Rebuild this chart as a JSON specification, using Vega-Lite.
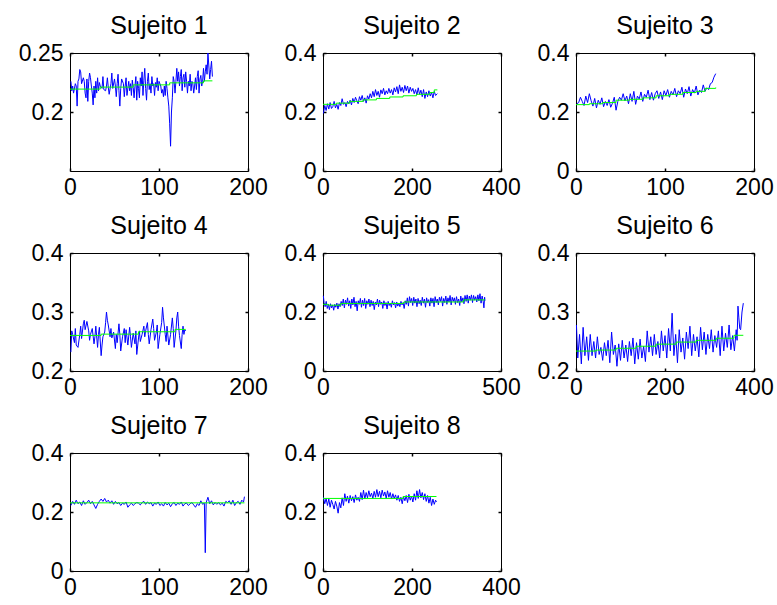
{
"$schema": "https://vega.github.io/schema/vega-lite/v6.json",
"padding": {"left": 17, "top": 13, "right": 0, "bottom": 0},
"background": "white",
"config": {
  "font": "Liberation Sans",
  "view": {"stroke": "#000000", "strokeWidth": 1},
  "axis": {"grid": false, "domain": false, "ticks": true, "tickSize": -3, "tickColor": "#000000", "tickWidth": 1.5, "labelFont": "Liberation Sans", "labelFontSize": 23, "labelColor": "#000000", "labelPadding": 10, "labelFlush": false, "labelOverlap": false, "format": "~f"},
  "axisX": {"labelPadding": 8},
  "title": {"font": "Liberation Sans", "fontSize": 25, "fontWeight": "normal", "color": "#000000", "anchor": "middle", "frame": "group", "baseline": "alphabetic", "offset": 3},
  "line": {"strokeWidth": 1, "clip": true}
},
"datasets": {
"b1": [{"x":1,"y":0.226},{"x":2,"y":0.218},{"x":3,"y":0.222},{"x":4,"y":0.216},{"x":6,"y":0.224},{"x":7,"y":0.222},{"x":8,"y":0.205},{"x":9,"y":0.226},{"x":10,"y":0.228},{"x":11,"y":0.236},{"x":12,"y":0.234},{"x":13,"y":0.224},{"x":15,"y":0.229},{"x":16,"y":0.226},{"x":17,"y":0.216},{"x":18,"y":0.212},{"x":19,"y":0.228},{"x":20,"y":0.209},{"x":21,"y":0.226},{"x":22,"y":0.233},{"x":23,"y":0.229},{"x":24,"y":0.222},{"x":25,"y":0.216},{"x":26,"y":0.206},{"x":27,"y":0.222},{"x":28,"y":0.212},{"x":29,"y":0.226},{"x":30,"y":0.216},{"x":31,"y":0.229},{"x":32,"y":0.218},{"x":33,"y":0.225},{"x":34,"y":0.222},{"x":36,"y":0.22},{"x":37,"y":0.23},{"x":38,"y":0.219},{"x":40,"y":0.218},{"x":41,"y":0.222},{"x":42,"y":0.229},{"x":43,"y":0.221},{"x":44,"y":0.215},{"x":46,"y":0.224},{"x":47,"y":0.233},{"x":48,"y":0.22},{"x":50,"y":0.228},{"x":51,"y":0.222},{"x":52,"y":0.213},{"x":53,"y":0.224},{"x":54,"y":0.232},{"x":55,"y":0.218},{"x":56,"y":0.205},{"x":57,"y":0.22},{"x":58,"y":0.228},{"x":60,"y":0.224},{"x":61,"y":0.213},{"x":62,"y":0.222},{"x":63,"y":0.229},{"x":64,"y":0.214},{"x":66,"y":0.226},{"x":67,"y":0.218},{"x":68,"y":0.224},{"x":69,"y":0.214},{"x":70,"y":0.227},{"x":71,"y":0.221},{"x":72,"y":0.212},{"x":73,"y":0.222},{"x":74,"y":0.23},{"x":75,"y":0.21},{"x":76,"y":0.226},{"x":77,"y":0.22},{"x":78,"y":0.212},{"x":79,"y":0.229},{"x":80,"y":0.222},{"x":81,"y":0.234},{"x":82,"y":0.214},{"x":83,"y":0.227},{"x":84,"y":0.237},{"x":85,"y":0.22},{"x":86,"y":0.21},{"x":87,"y":0.226},{"x":88,"y":0.233},{"x":89,"y":0.219},{"x":90,"y":0.224},{"x":91,"y":0.216},{"x":92,"y":0.23},{"x":93,"y":0.222},{"x":94,"y":0.224},{"x":95,"y":0.214},{"x":96,"y":0.225},{"x":97,"y":0.221},{"x":98,"y":0.229},{"x":99,"y":0.218},{"x":100,"y":0.226},{"x":102,"y":0.222},{"x":103,"y":0.216},{"x":104,"y":0.219},{"x":105,"y":0.213},{"x":106,"y":0.222},{"x":107,"y":0.214},{"x":108,"y":0.226},{"x":109,"y":0.22},{"x":110,"y":0.212},{"x":111,"y":0.205},{"x":112,"y":0.19},{"x":113,"y":0.171},{"x":114,"y":0.2},{"x":115,"y":0.212},{"x":116,"y":0.23},{"x":117,"y":0.226},{"x":118,"y":0.216},{"x":119,"y":0.226},{"x":120,"y":0.237},{"x":121,"y":0.226},{"x":122,"y":0.234},{"x":123,"y":0.222},{"x":124,"y":0.23},{"x":125,"y":0.236},{"x":126,"y":0.218},{"x":127,"y":0.229},{"x":128,"y":0.232},{"x":129,"y":0.221},{"x":130,"y":0.234},{"x":131,"y":0.226},{"x":132,"y":0.216},{"x":133,"y":0.226},{"x":134,"y":0.222},{"x":135,"y":0.232},{"x":136,"y":0.218},{"x":137,"y":0.226},{"x":138,"y":0.224},{"x":139,"y":0.216},{"x":140,"y":0.222},{"x":141,"y":0.229},{"x":142,"y":0.219},{"x":143,"y":0.23},{"x":144,"y":0.235},{"x":145,"y":0.216},{"x":146,"y":0.228},{"x":147,"y":0.231},{"x":148,"y":0.222},{"x":149,"y":0.226},{"x":150,"y":0.237},{"x":151,"y":0.226},{"x":152,"y":0.234},{"x":153,"y":0.24},{"x":154,"y":0.232},{"x":155,"y":0.25},{"x":156,"y":0.239},{"x":157,"y":0.228},{"x":158,"y":0.236},{"x":159,"y":0.243},{"x":160,"y":0.23}],
"g1": [{"x":0,"y":0.2194},{"x":34,"y":0.2211},{"x":71,"y":0.223},{"x":112,"y":0.2247},{"x":150,"y":0.2264},{"x":160,"y":0.2264}],
"b2": [{"x":1,"y":0.195},{"x":4,"y":0.222},{"x":7,"y":0.205},{"x":10,"y":0.228},{"x":13,"y":0.21},{"x":16,"y":0.232},{"x":19,"y":0.212},{"x":22,"y":0.218},{"x":25,"y":0.236},{"x":28,"y":0.214},{"x":31,"y":0.226},{"x":34,"y":0.209},{"x":37,"y":0.232},{"x":40,"y":0.222},{"x":43,"y":0.245},{"x":46,"y":0.226},{"x":49,"y":0.232},{"x":52,"y":0.218},{"x":55,"y":0.236},{"x":58,"y":0.228},{"x":61,"y":0.24},{"x":64,"y":0.224},{"x":67,"y":0.246},{"x":70,"y":0.232},{"x":73,"y":0.25},{"x":76,"y":0.238},{"x":79,"y":0.228},{"x":82,"y":0.252},{"x":85,"y":0.24},{"x":88,"y":0.256},{"x":91,"y":0.236},{"x":94,"y":0.248},{"x":97,"y":0.23},{"x":100,"y":0.255},{"x":103,"y":0.244},{"x":106,"y":0.262},{"x":109,"y":0.248},{"x":112,"y":0.27},{"x":115,"y":0.252},{"x":118,"y":0.276},{"x":121,"y":0.256},{"x":124,"y":0.27},{"x":127,"y":0.25},{"x":130,"y":0.275},{"x":133,"y":0.262},{"x":136,"y":0.28},{"x":139,"y":0.258},{"x":142,"y":0.272},{"x":145,"y":0.262},{"x":148,"y":0.28},{"x":151,"y":0.264},{"x":154,"y":0.276},{"x":157,"y":0.258},{"x":160,"y":0.282},{"x":163,"y":0.268},{"x":166,"y":0.286},{"x":169,"y":0.262},{"x":172,"y":0.292},{"x":175,"y":0.27},{"x":178,"y":0.284},{"x":181,"y":0.266},{"x":184,"y":0.29},{"x":187,"y":0.272},{"x":190,"y":0.288},{"x":193,"y":0.264},{"x":196,"y":0.284},{"x":199,"y":0.27},{"x":202,"y":0.28},{"x":205,"y":0.262},{"x":208,"y":0.276},{"x":211,"y":0.258},{"x":214,"y":0.282},{"x":217,"y":0.26},{"x":220,"y":0.274},{"x":223,"y":0.252},{"x":226,"y":0.276},{"x":229,"y":0.246},{"x":232,"y":0.268},{"x":235,"y":0.252},{"x":238,"y":0.272},{"x":241,"y":0.254},{"x":244,"y":0.266},{"x":247,"y":0.248},{"x":250,"y":0.27},{"x":253,"y":0.256},{"x":257,"y":0.262}],
"g2": [{"x":0,"y":0.226},{"x":30,"y":0.23},{"x":60,"y":0.236},{"x":90,"y":0.241},{"x":120,"y":0.246},{"x":150,"y":0.251},{"x":180,"y":0.255},{"x":210,"y":0.26},{"x":240,"y":0.266},{"x":250,"y":0.275},{"x":257,"y":0.275}],
"b3": [{"x":1,"y":0.228},{"x":3,"y":0.232},{"x":5,"y":0.25},{"x":7,"y":0.236},{"x":9,"y":0.222},{"x":11,"y":0.254},{"x":13,"y":0.232},{"x":15,"y":0.262},{"x":17,"y":0.238},{"x":19,"y":0.22},{"x":21,"y":0.246},{"x":23,"y":0.214},{"x":25,"y":0.24},{"x":27,"y":0.226},{"x":29,"y":0.248},{"x":31,"y":0.218},{"x":33,"y":0.236},{"x":35,"y":0.222},{"x":37,"y":0.242},{"x":39,"y":0.216},{"x":41,"y":0.23},{"x":43,"y":0.25},{"x":45,"y":0.206},{"x":47,"y":0.236},{"x":49,"y":0.25},{"x":51,"y":0.24},{"x":53,"y":0.262},{"x":55,"y":0.238},{"x":57,"y":0.254},{"x":59,"y":0.228},{"x":61,"y":0.262},{"x":63,"y":0.236},{"x":65,"y":0.27},{"x":67,"y":0.226},{"x":69,"y":0.254},{"x":71,"y":0.244},{"x":73,"y":0.268},{"x":75,"y":0.236},{"x":77,"y":0.26},{"x":79,"y":0.25},{"x":81,"y":0.274},{"x":83,"y":0.242},{"x":85,"y":0.266},{"x":87,"y":0.24},{"x":89,"y":0.262},{"x":91,"y":0.272},{"x":93,"y":0.246},{"x":95,"y":0.268},{"x":97,"y":0.242},{"x":99,"y":0.272},{"x":101,"y":0.256},{"x":103,"y":0.276},{"x":105,"y":0.25},{"x":107,"y":0.27},{"x":109,"y":0.258},{"x":111,"y":0.28},{"x":113,"y":0.252},{"x":115,"y":0.272},{"x":117,"y":0.262},{"x":119,"y":0.284},{"x":121,"y":0.25},{"x":123,"y":0.278},{"x":125,"y":0.262},{"x":127,"y":0.286},{"x":129,"y":0.254},{"x":131,"y":0.276},{"x":133,"y":0.264},{"x":135,"y":0.288},{"x":137,"y":0.258},{"x":139,"y":0.274},{"x":141,"y":0.266},{"x":143,"y":0.292},{"x":145,"y":0.27},{"x":147,"y":0.282},{"x":149,"y":0.276},{"x":151,"y":0.296},{"x":153,"y":0.3},{"x":155,"y":0.318},{"x":157,"y":0.33}],
"g3": [{"x":0,"y":0.225},{"x":15,"y":0.228},{"x":30,"y":0.232},{"x":45,"y":0.24},{"x":60,"y":0.243},{"x":75,"y":0.248},{"x":90,"y":0.255},{"x":105,"y":0.26},{"x":120,"y":0.266},{"x":135,"y":0.27},{"x":145,"y":0.28},{"x":157,"y":0.283}],
"b4": [{"x":1,"y":0.232},{"x":2,"y":0.268},{"x":3,"y":0.262},{"x":5,"y":0.248},{"x":6,"y":0.272},{"x":7,"y":0.244},{"x":9,"y":0.24},{"x":11,"y":0.262},{"x":12,"y":0.276},{"x":13,"y":0.255},{"x":15,"y":0.28},{"x":16,"y":0.286},{"x":17,"y":0.27},{"x":19,"y":0.284},{"x":21,"y":0.268},{"x":22,"y":0.252},{"x":23,"y":0.262},{"x":25,"y":0.272},{"x":27,"y":0.246},{"x":28,"y":0.258},{"x":29,"y":0.276},{"x":31,"y":0.24},{"x":32,"y":0.262},{"x":33,"y":0.274},{"x":35,"y":0.226},{"x":36,"y":0.244},{"x":37,"y":0.258},{"x":39,"y":0.266},{"x":40,"y":0.282},{"x":41,"y":0.3},{"x":42,"y":0.286},{"x":43,"y":0.278},{"x":45,"y":0.258},{"x":46,"y":0.272},{"x":47,"y":0.256},{"x":49,"y":0.266},{"x":51,"y":0.238},{"x":52,"y":0.262},{"x":53,"y":0.248},{"x":55,"y":0.28},{"x":56,"y":0.262},{"x":57,"y":0.234},{"x":59,"y":0.258},{"x":61,"y":0.272},{"x":62,"y":0.248},{"x":63,"y":0.27},{"x":65,"y":0.244},{"x":67,"y":0.274},{"x":68,"y":0.258},{"x":69,"y":0.24},{"x":71,"y":0.264},{"x":73,"y":0.246},{"x":74,"y":0.268},{"x":75,"y":0.228},{"x":77,"y":0.256},{"x":78,"y":0.268},{"x":79,"y":0.25},{"x":81,"y":0.262},{"x":83,"y":0.276},{"x":84,"y":0.258},{"x":85,"y":0.268},{"x":87,"y":0.282},{"x":88,"y":0.262},{"x":89,"y":0.246},{"x":91,"y":0.27},{"x":93,"y":0.288},{"x":94,"y":0.272},{"x":95,"y":0.252},{"x":97,"y":0.266},{"x":98,"y":0.278},{"x":99,"y":0.238},{"x":101,"y":0.262},{"x":103,"y":0.282},{"x":104,"y":0.308},{"x":105,"y":0.29},{"x":107,"y":0.262},{"x":108,"y":0.25},{"x":109,"y":0.276},{"x":111,"y":0.244},{"x":113,"y":0.262},{"x":115,"y":0.29},{"x":116,"y":0.272},{"x":117,"y":0.24},{"x":119,"y":0.268},{"x":120,"y":0.29},{"x":121,"y":0.3},{"x":122,"y":0.276},{"x":123,"y":0.26},{"x":125,"y":0.238},{"x":126,"y":0.262},{"x":127,"y":0.276},{"x":128,"y":0.262},{"x":129,"y":0.27},{"x":130,"y":0.268}],
"g4": [{"x":0,"y":0.2603},{"x":35,"y":0.2625},{"x":77,"y":0.2665},{"x":118,"y":0.2705},{"x":130,"y":0.2705}],
"b5": [{"x":1,"y":0.255},{"x":3,"y":0.232},{"x":6,"y":0.218},{"x":9,"y":0.236},{"x":12,"y":0.212},{"x":15,"y":0.226},{"x":18,"y":0.208},{"x":21,"y":0.228},{"x":24,"y":0.214},{"x":27,"y":0.224},{"x":30,"y":0.206},{"x":33,"y":0.226},{"x":36,"y":0.216},{"x":39,"y":0.23},{"x":42,"y":0.21},{"x":45,"y":0.228},{"x":48,"y":0.218},{"x":51,"y":0.236},{"x":54,"y":0.222},{"x":57,"y":0.244},{"x":60,"y":0.214},{"x":63,"y":0.24},{"x":66,"y":0.226},{"x":69,"y":0.248},{"x":72,"y":0.22},{"x":75,"y":0.238},{"x":78,"y":0.212},{"x":81,"y":0.244},{"x":84,"y":0.224},{"x":87,"y":0.25},{"x":90,"y":0.218},{"x":93,"y":0.236},{"x":96,"y":0.204},{"x":99,"y":0.238},{"x":102,"y":0.226},{"x":105,"y":0.246},{"x":108,"y":0.216},{"x":111,"y":0.24},{"x":114,"y":0.222},{"x":117,"y":0.246},{"x":120,"y":0.212},{"x":123,"y":0.238},{"x":126,"y":0.226},{"x":129,"y":0.244},{"x":132,"y":0.218},{"x":135,"y":0.24},{"x":138,"y":0.222},{"x":141,"y":0.236},{"x":144,"y":0.208},{"x":147,"y":0.234},{"x":150,"y":0.224},{"x":153,"y":0.244},{"x":156,"y":0.218},{"x":159,"y":0.24},{"x":162,"y":0.226},{"x":165,"y":0.234},{"x":168,"y":0.212},{"x":171,"y":0.238},{"x":174,"y":0.222},{"x":177,"y":0.232},{"x":180,"y":0.21},{"x":183,"y":0.236},{"x":186,"y":0.222},{"x":189,"y":0.23},{"x":192,"y":0.216},{"x":195,"y":0.238},{"x":198,"y":0.224},{"x":201,"y":0.232},{"x":204,"y":0.214},{"x":207,"y":0.234},{"x":210,"y":0.22},{"x":213,"y":0.23},{"x":216,"y":0.218},{"x":219,"y":0.236},{"x":222,"y":0.224},{"x":225,"y":0.232},{"x":228,"y":0.212},{"x":231,"y":0.238},{"x":234,"y":0.226},{"x":237,"y":0.248},{"x":240,"y":0.22},{"x":243,"y":0.252},{"x":246,"y":0.232},{"x":249,"y":0.246},{"x":252,"y":0.222},{"x":255,"y":0.25},{"x":258,"y":0.23},{"x":261,"y":0.244},{"x":264,"y":0.218},{"x":267,"y":0.246},{"x":270,"y":0.228},{"x":273,"y":0.24},{"x":276,"y":0.222},{"x":279,"y":0.25},{"x":282,"y":0.23},{"x":285,"y":0.244},{"x":288,"y":0.216},{"x":291,"y":0.248},{"x":294,"y":0.232},{"x":297,"y":0.242},{"x":300,"y":0.22},{"x":303,"y":0.248},{"x":306,"y":0.23},{"x":309,"y":0.246},{"x":312,"y":0.218},{"x":315,"y":0.252},{"x":318,"y":0.232},{"x":321,"y":0.244},{"x":324,"y":0.224},{"x":327,"y":0.25},{"x":330,"y":0.236},{"x":333,"y":0.252},{"x":336,"y":0.22},{"x":339,"y":0.246},{"x":342,"y":0.232},{"x":345,"y":0.254},{"x":348,"y":0.226},{"x":351,"y":0.248},{"x":354,"y":0.234},{"x":357,"y":0.256},{"x":360,"y":0.224},{"x":363,"y":0.25},{"x":366,"y":0.236},{"x":369,"y":0.248},{"x":372,"y":0.226},{"x":375,"y":0.252},{"x":378,"y":0.232},{"x":381,"y":0.244},{"x":384,"y":0.222},{"x":387,"y":0.254},{"x":390,"y":0.234},{"x":393,"y":0.248},{"x":396,"y":0.228},{"x":399,"y":0.256},{"x":402,"y":0.236},{"x":405,"y":0.258},{"x":408,"y":0.23},{"x":411,"y":0.254},{"x":414,"y":0.24},{"x":417,"y":0.258},{"x":420,"y":0.232},{"x":423,"y":0.256},{"x":426,"y":0.24},{"x":429,"y":0.252},{"x":432,"y":0.234},{"x":435,"y":0.258},{"x":438,"y":0.238},{"x":441,"y":0.262},{"x":444,"y":0.23},{"x":447,"y":0.254},{"x":450,"y":0.236},{"x":452,"y":0.214},{"x":454,"y":0.25},{"x":455,"y":0.238}],
"g5": [{"x":0,"y":0.226},{"x":15,"y":0.223},{"x":50,"y":0.229},{"x":227,"y":0.234},{"x":395,"y":0.241},{"x":455,"y":0.241}],
"b6": [{"x":1,"y":0.278},{"x":4,"y":0.222},{"x":8,"y":0.262},{"x":12,"y":0.212},{"x":16,"y":0.274},{"x":20,"y":0.226},{"x":24,"y":0.258},{"x":28,"y":0.218},{"x":32,"y":0.262},{"x":36,"y":0.226},{"x":40,"y":0.25},{"x":44,"y":0.222},{"x":48,"y":0.258},{"x":52,"y":0.228},{"x":56,"y":0.24},{"x":60,"y":0.218},{"x":64,"y":0.248},{"x":68,"y":0.226},{"x":72,"y":0.252},{"x":76,"y":0.214},{"x":80,"y":0.266},{"x":84,"y":0.228},{"x":88,"y":0.244},{"x":92,"y":0.208},{"x":96,"y":0.246},{"x":100,"y":0.218},{"x":104,"y":0.252},{"x":108,"y":0.222},{"x":112,"y":0.244},{"x":116,"y":0.216},{"x":120,"y":0.25},{"x":124,"y":0.226},{"x":128,"y":0.256},{"x":132,"y":0.212},{"x":136,"y":0.248},{"x":140,"y":0.22},{"x":144,"y":0.254},{"x":148,"y":0.222},{"x":152,"y":0.242},{"x":156,"y":0.216},{"x":160,"y":0.268},{"x":164,"y":0.232},{"x":168,"y":0.258},{"x":172,"y":0.226},{"x":176,"y":0.262},{"x":180,"y":0.228},{"x":184,"y":0.25},{"x":188,"y":0.222},{"x":192,"y":0.268},{"x":196,"y":0.234},{"x":200,"y":0.26},{"x":204,"y":0.222},{"x":208,"y":0.272},{"x":212,"y":0.234},{"x":216,"y":0.298},{"x":220,"y":0.226},{"x":224,"y":0.262},{"x":228,"y":0.214},{"x":232,"y":0.27},{"x":236,"y":0.232},{"x":240,"y":0.256},{"x":244,"y":0.22},{"x":248,"y":0.266},{"x":252,"y":0.238},{"x":256,"y":0.276},{"x":260,"y":0.226},{"x":264,"y":0.262},{"x":268,"y":0.234},{"x":272,"y":0.258},{"x":276,"y":0.224},{"x":280,"y":0.274},{"x":284,"y":0.236},{"x":288,"y":0.266},{"x":292,"y":0.228},{"x":296,"y":0.262},{"x":300,"y":0.238},{"x":304,"y":0.27},{"x":308,"y":0.232},{"x":312,"y":0.26},{"x":316,"y":0.24},{"x":320,"y":0.268},{"x":324,"y":0.226},{"x":328,"y":0.276},{"x":332,"y":0.234},{"x":336,"y":0.264},{"x":340,"y":0.24},{"x":344,"y":0.278},{"x":348,"y":0.236},{"x":352,"y":0.26},{"x":356,"y":0.234},{"x":360,"y":0.27},{"x":362,"y":0.252},{"x":364,"y":0.31},{"x":366,"y":0.29},{"x":368,"y":0.272},{"x":370,"y":0.27},{"x":373,"y":0.3},{"x":376,"y":0.315}],
"g6": [{"x":0,"y":0.2338},{"x":45,"y":0.2355},{"x":90,"y":0.2385},{"x":135,"y":0.242},{"x":180,"y":0.2455},{"x":225,"y":0.249},{"x":270,"y":0.252},{"x":315,"y":0.2555},{"x":355,"y":0.2605},{"x":376,"y":0.2605}],
"b7": [{"x":1,"y":0.222},{"x":3,"y":0.236},{"x":5,"y":0.226},{"x":7,"y":0.24},{"x":9,"y":0.228},{"x":11,"y":0.234},{"x":13,"y":0.222},{"x":15,"y":0.238},{"x":17,"y":0.226},{"x":19,"y":0.232},{"x":21,"y":0.24},{"x":23,"y":0.228},{"x":25,"y":0.236},{"x":27,"y":0.224},{"x":29,"y":0.212},{"x":31,"y":0.226},{"x":33,"y":0.236},{"x":35,"y":0.244},{"x":37,"y":0.236},{"x":39,"y":0.246},{"x":41,"y":0.234},{"x":43,"y":0.24},{"x":45,"y":0.23},{"x":47,"y":0.238},{"x":49,"y":0.226},{"x":51,"y":0.236},{"x":53,"y":0.228},{"x":55,"y":0.232},{"x":57,"y":0.222},{"x":59,"y":0.23},{"x":61,"y":0.226},{"x":63,"y":0.234},{"x":65,"y":0.216},{"x":67,"y":0.224},{"x":69,"y":0.23},{"x":71,"y":0.222},{"x":73,"y":0.228},{"x":75,"y":0.232},{"x":77,"y":0.23},{"x":79,"y":0.224},{"x":81,"y":0.232},{"x":83,"y":0.236},{"x":85,"y":0.226},{"x":87,"y":0.234},{"x":89,"y":0.228},{"x":91,"y":0.232},{"x":93,"y":0.22},{"x":95,"y":0.23},{"x":97,"y":0.226},{"x":99,"y":0.234},{"x":101,"y":0.222},{"x":103,"y":0.228},{"x":105,"y":0.22},{"x":107,"y":0.232},{"x":109,"y":0.224},{"x":111,"y":0.23},{"x":113,"y":0.218},{"x":115,"y":0.228},{"x":117,"y":0.232},{"x":119,"y":0.222},{"x":121,"y":0.23},{"x":123,"y":0.226},{"x":125,"y":0.234},{"x":127,"y":0.22},{"x":129,"y":0.228},{"x":131,"y":0.23},{"x":133,"y":0.222},{"x":135,"y":0.228},{"x":137,"y":0.232},{"x":139,"y":0.224},{"x":141,"y":0.216},{"x":143,"y":0.228},{"x":145,"y":0.222},{"x":147,"y":0.238},{"x":149,"y":0.226},{"x":151,"y":0.23},{"x":152,"y":0.062},{"x":153,"y":0.232},{"x":155,"y":0.25},{"x":157,"y":0.228},{"x":159,"y":0.238},{"x":161,"y":0.224},{"x":163,"y":0.232},{"x":165,"y":0.226},{"x":167,"y":0.232},{"x":169,"y":0.224},{"x":171,"y":0.23},{"x":173,"y":0.22},{"x":175,"y":0.236},{"x":177,"y":0.232},{"x":179,"y":0.238},{"x":181,"y":0.226},{"x":183,"y":0.24},{"x":185,"y":0.222},{"x":187,"y":0.232},{"x":189,"y":0.236},{"x":191,"y":0.226},{"x":193,"y":0.24},{"x":195,"y":0.234},{"x":196,"y":0.252}],
"g7": [{"x":0,"y":0.231},{"x":196,"y":0.231}],
"b8": [{"x":1,"y":0.25},{"x":4,"y":0.228},{"x":7,"y":0.246},{"x":10,"y":0.222},{"x":13,"y":0.244},{"x":16,"y":0.216},{"x":19,"y":0.24},{"x":22,"y":0.226},{"x":25,"y":0.21},{"x":28,"y":0.236},{"x":31,"y":0.22},{"x":34,"y":0.196},{"x":37,"y":0.232},{"x":40,"y":0.214},{"x":43,"y":0.248},{"x":46,"y":0.222},{"x":49,"y":0.262},{"x":52,"y":0.236},{"x":55,"y":0.254},{"x":58,"y":0.23},{"x":61,"y":0.256},{"x":64,"y":0.238},{"x":67,"y":0.252},{"x":70,"y":0.232},{"x":73,"y":0.258},{"x":76,"y":0.24},{"x":79,"y":0.25},{"x":82,"y":0.236},{"x":85,"y":0.266},{"x":88,"y":0.242},{"x":91,"y":0.274},{"x":94,"y":0.244},{"x":97,"y":0.266},{"x":100,"y":0.248},{"x":103,"y":0.272},{"x":106,"y":0.252},{"x":109,"y":0.264},{"x":112,"y":0.246},{"x":115,"y":0.27},{"x":118,"y":0.25},{"x":121,"y":0.276},{"x":124,"y":0.252},{"x":127,"y":0.27},{"x":130,"y":0.248},{"x":133,"y":0.274},{"x":136,"y":0.254},{"x":139,"y":0.268},{"x":142,"y":0.246},{"x":145,"y":0.272},{"x":148,"y":0.25},{"x":151,"y":0.266},{"x":154,"y":0.244},{"x":157,"y":0.262},{"x":160,"y":0.246},{"x":163,"y":0.258},{"x":166,"y":0.24},{"x":169,"y":0.256},{"x":172,"y":0.236},{"x":175,"y":0.25},{"x":178,"y":0.228},{"x":181,"y":0.252},{"x":184,"y":0.238},{"x":187,"y":0.256},{"x":190,"y":0.232},{"x":193,"y":0.26},{"x":196,"y":0.24},{"x":199,"y":0.254},{"x":202,"y":0.234},{"x":205,"y":0.262},{"x":208,"y":0.24},{"x":211,"y":0.272},{"x":214,"y":0.246},{"x":217,"y":0.276},{"x":220,"y":0.248},{"x":223,"y":0.266},{"x":226,"y":0.242},{"x":229,"y":0.262},{"x":232,"y":0.236},{"x":235,"y":0.256},{"x":238,"y":0.23},{"x":241,"y":0.25},{"x":244,"y":0.222},{"x":247,"y":0.244},{"x":250,"y":0.226},{"x":253,"y":0.24},{"x":255,"y":0.234}],
"g8": [{"x":0,"y":0.246},{"x":180,"y":0.2525},{"x":255,"y":0.2525}]
},
"columns": 3,
"bounds": "flush",
"spacing": {"row": 82, "column": 75},
"concat": [
{"title": "Sujeito 1", "width": 178, "height": 118,
 "layer": [
  {"data": {"name": "b1"}, "mark": {"type": "line", "color": "#0000ff"},
   "encoding": {"x": {"field": "x", "type": "quantitative", "scale": {"domain": [0, 200], "nice": false, "zero": false}, "axis": {"values": [0, 100, 200], "title": null}},
                "y": {"field": "y", "type": "quantitative", "scale": {"domain": [0.15, 0.25], "nice": false, "zero": false}, "axis": {"values": [0.2, 0.25], "title": null}}}},
  {"data": {"name": "g1"}, "mark": {"type": "line", "color": "#00ff00", "interpolate": "step-after"},
   "encoding": {"x": {"field": "x", "type": "quantitative", "scale": {"domain": [0, 200], "nice": false, "zero": false}, "axis": {"orient": "top", "values": [0, 100, 200], "labels": false, "title": null}},
                "y": {"field": "y", "type": "quantitative", "scale": {"domain": [0.15, 0.25], "nice": false, "zero": false}, "axis": {"orient": "right", "values": [0.2, 0.25], "labels": false, "title": null}}}}
 ],
 "resolve": {"axis": {"x": "independent", "y": "independent"}}},
{"title": "Sujeito 2", "width": 178, "height": 118,
 "layer": [
  {"data": {"name": "b2"}, "mark": {"type": "line", "color": "#0000ff"},
   "encoding": {"x": {"field": "x", "type": "quantitative", "scale": {"domain": [0, 400], "nice": false, "zero": false}, "axis": {"values": [0, 200, 400], "title": null}},
                "y": {"field": "y", "type": "quantitative", "scale": {"domain": [0, 0.4], "nice": false, "zero": false}, "axis": {"values": [0, 0.2, 0.4], "title": null}}}},
  {"data": {"name": "g2"}, "mark": {"type": "line", "color": "#00ff00", "interpolate": "step-after"},
   "encoding": {"x": {"field": "x", "type": "quantitative", "scale": {"domain": [0, 400], "nice": false, "zero": false}, "axis": {"orient": "top", "values": [0, 200, 400], "labels": false, "title": null}},
                "y": {"field": "y", "type": "quantitative", "scale": {"domain": [0, 0.4], "nice": false, "zero": false}, "axis": {"orient": "right", "values": [0, 0.2, 0.4], "labels": false, "title": null}}}}
 ],
 "resolve": {"axis": {"x": "independent", "y": "independent"}}},
{"title": "Sujeito 3", "width": 178, "height": 118,
 "layer": [
  {"data": {"name": "b3"}, "mark": {"type": "line", "color": "#0000ff"},
   "encoding": {"x": {"field": "x", "type": "quantitative", "scale": {"domain": [0, 200], "nice": false, "zero": false}, "axis": {"values": [0, 100, 200], "title": null}},
                "y": {"field": "y", "type": "quantitative", "scale": {"domain": [0, 0.4], "nice": false, "zero": false}, "axis": {"values": [0, 0.2, 0.4], "title": null}}}},
  {"data": {"name": "g3"}, "mark": {"type": "line", "color": "#00ff00", "interpolate": "step-after"},
   "encoding": {"x": {"field": "x", "type": "quantitative", "scale": {"domain": [0, 200], "nice": false, "zero": false}, "axis": {"orient": "top", "values": [0, 100, 200], "labels": false, "title": null}},
                "y": {"field": "y", "type": "quantitative", "scale": {"domain": [0, 0.4], "nice": false, "zero": false}, "axis": {"orient": "right", "values": [0, 0.2, 0.4], "labels": false, "title": null}}}}
 ],
 "resolve": {"axis": {"x": "independent", "y": "independent"}}},
{"title": "Sujeito 4", "width": 178, "height": 118,
 "layer": [
  {"data": {"name": "b4"}, "mark": {"type": "line", "color": "#0000ff"},
   "encoding": {"x": {"field": "x", "type": "quantitative", "scale": {"domain": [0, 200], "nice": false, "zero": false}, "axis": {"values": [0, 100, 200], "title": null}},
                "y": {"field": "y", "type": "quantitative", "scale": {"domain": [0.2, 0.4], "nice": false, "zero": false}, "axis": {"values": [0.2, 0.3, 0.4], "title": null}}}},
  {"data": {"name": "g4"}, "mark": {"type": "line", "color": "#00ff00", "interpolate": "step-after"},
   "encoding": {"x": {"field": "x", "type": "quantitative", "scale": {"domain": [0, 200], "nice": false, "zero": false}, "axis": {"orient": "top", "values": [0, 100, 200], "labels": false, "title": null}},
                "y": {"field": "y", "type": "quantitative", "scale": {"domain": [0.2, 0.4], "nice": false, "zero": false}, "axis": {"orient": "right", "values": [0.2, 0.3, 0.4], "labels": false, "title": null}}}}
 ],
 "resolve": {"axis": {"x": "independent", "y": "independent"}}},
{"title": "Sujeito 5", "width": 178, "height": 118,
 "layer": [
  {"data": {"name": "b5"}, "mark": {"type": "line", "color": "#0000ff"},
   "encoding": {"x": {"field": "x", "type": "quantitative", "scale": {"domain": [0, 500], "nice": false, "zero": false}, "axis": {"values": [0, 500], "title": null}},
                "y": {"field": "y", "type": "quantitative", "scale": {"domain": [0, 0.4], "nice": false, "zero": false}, "axis": {"values": [0, 0.2, 0.4], "title": null}}}},
  {"data": {"name": "g5"}, "mark": {"type": "line", "color": "#00ff00", "interpolate": "step-after"},
   "encoding": {"x": {"field": "x", "type": "quantitative", "scale": {"domain": [0, 500], "nice": false, "zero": false}, "axis": {"orient": "top", "values": [0, 500], "labels": false, "title": null}},
                "y": {"field": "y", "type": "quantitative", "scale": {"domain": [0, 0.4], "nice": false, "zero": false}, "axis": {"orient": "right", "values": [0, 0.2, 0.4], "labels": false, "title": null}}}}
 ],
 "resolve": {"axis": {"x": "independent", "y": "independent"}}},
{"title": "Sujeito 6", "width": 178, "height": 118,
 "layer": [
  {"data": {"name": "b6"}, "mark": {"type": "line", "color": "#0000ff"},
   "encoding": {"x": {"field": "x", "type": "quantitative", "scale": {"domain": [0, 400], "nice": false, "zero": false}, "axis": {"values": [0, 200, 400], "title": null}},
                "y": {"field": "y", "type": "quantitative", "scale": {"domain": [0.2, 0.4], "nice": false, "zero": false}, "axis": {"values": [0.2, 0.3, 0.4], "title": null}}}},
  {"data": {"name": "g6"}, "mark": {"type": "line", "color": "#00ff00", "interpolate": "step-after"},
   "encoding": {"x": {"field": "x", "type": "quantitative", "scale": {"domain": [0, 400], "nice": false, "zero": false}, "axis": {"orient": "top", "values": [0, 200, 400], "labels": false, "title": null}},
                "y": {"field": "y", "type": "quantitative", "scale": {"domain": [0.2, 0.4], "nice": false, "zero": false}, "axis": {"orient": "right", "values": [0.2, 0.3, 0.4], "labels": false, "title": null}}}}
 ],
 "resolve": {"axis": {"x": "independent", "y": "independent"}}},
{"title": "Sujeito 7", "width": 178, "height": 118,
 "layer": [
  {"data": {"name": "b7"}, "mark": {"type": "line", "color": "#0000ff"},
   "encoding": {"x": {"field": "x", "type": "quantitative", "scale": {"domain": [0, 200], "nice": false, "zero": false}, "axis": {"values": [0, 100, 200], "title": null}},
                "y": {"field": "y", "type": "quantitative", "scale": {"domain": [0, 0.4], "nice": false, "zero": false}, "axis": {"values": [0, 0.2, 0.4], "title": null}}}},
  {"data": {"name": "g7"}, "mark": {"type": "line", "color": "#00ff00", "interpolate": "step-after"},
   "encoding": {"x": {"field": "x", "type": "quantitative", "scale": {"domain": [0, 200], "nice": false, "zero": false}, "axis": {"orient": "top", "values": [0, 100, 200], "labels": false, "title": null}},
                "y": {"field": "y", "type": "quantitative", "scale": {"domain": [0, 0.4], "nice": false, "zero": false}, "axis": {"orient": "right", "values": [0, 0.2, 0.4], "labels": false, "title": null}}}}
 ],
 "resolve": {"axis": {"x": "independent", "y": "independent"}}},
{"title": "Sujeito 8", "width": 178, "height": 118,
 "layer": [
  {"data": {"name": "b8"}, "mark": {"type": "line", "color": "#0000ff"},
   "encoding": {"x": {"field": "x", "type": "quantitative", "scale": {"domain": [0, 400], "nice": false, "zero": false}, "axis": {"values": [0, 200, 400], "title": null}},
                "y": {"field": "y", "type": "quantitative", "scale": {"domain": [0, 0.4], "nice": false, "zero": false}, "axis": {"values": [0, 0.2, 0.4], "title": null}}}},
  {"data": {"name": "g8"}, "mark": {"type": "line", "color": "#00ff00", "interpolate": "step-after"},
   "encoding": {"x": {"field": "x", "type": "quantitative", "scale": {"domain": [0, 400], "nice": false, "zero": false}, "axis": {"orient": "top", "values": [0, 200, 400], "labels": false, "title": null}},
                "y": {"field": "y", "type": "quantitative", "scale": {"domain": [0, 0.4], "nice": false, "zero": false}, "axis": {"orient": "right", "values": [0, 0.2, 0.4], "labels": false, "title": null}}}}
 ],
 "resolve": {"axis": {"x": "independent", "y": "independent"}}}
]
}
